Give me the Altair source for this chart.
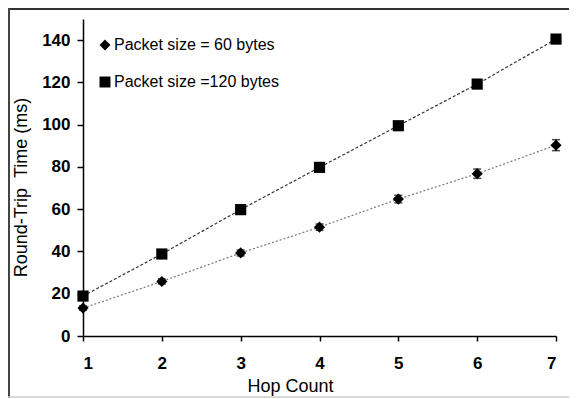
import altair as alt
import pandas as pd

hops = [1, 2, 3, 4, 5, 6, 7]
series_names = ["Packet size = 60 bytes", "Packet size =120 bytes"]
rtt_60 = [13.2, 25.8, 39.3, 51.5, 64.8, 76.8, 90.3]
err_60 = [1.0, 1.2, 1.4, 1.5, 1.8, 2.2, 2.6]
rtt_120 = [18.9, 38.8, 59.8, 79.8, 99.5, 119.2, 140.5]
err_120 = [0.8, 0.8, 0.8, 0.8, 0.8, 0.9, 1.2]
y_ticks = [0, 20, 40, 60, 80, 100, 120, 140]

rows = []
for h, v, e in zip(hops, rtt_60, err_60):
    rows.append({"hop": h, "rtt": v, "lo": v - e, "hi": v + e, "series": series_names[0], "line": "a"})
for h, v, e in zip(hops, rtt_120, err_120):
    rows.append({"hop": h, "rtt": v, "lo": v - e, "hi": v + e, "series": series_names[1], "line": "b"})
df = pd.DataFrame(rows)

FONT = "Liberation Sans"
W, H = 473, 317

x_enc = alt.X("hop:Q", scale=alt.Scale(domain=[1, 7], nice=False, zero=False),
              axis=alt.Axis(values=hops, title="Hop Count", grid=False, format="d",
                            labelFontSize=17, labelFontWeight="bold", labelPadding=14,
                            tickSize=5, titleFontSize=18, titleFontWeight="normal",
                            titleX=207, titleY=55, titleAlign="center",
                            titleBaseline="alphabetic"))
y_enc = alt.Y("rtt:Q", scale=alt.Scale(domain=[0, 150], nice=False),
              axis=alt.Axis(values=y_ticks, title="Round-Trip\u00a0\u00a0Time (ms)", grid=False,
                            labelFontSize=17, labelFontWeight="bold", labelPadding=7,
                            tickSize=6, titleFontSize=18, titleFontWeight="normal",
                            titleAngle=-90, titleX=-62, titleY=168, titleAlign="center",
                            titleBaseline="middle"))

base = alt.Chart(df)

lines = base.mark_line(strokeWidth=1.2).encode(
    x=x_enc, y=y_enc,
    color=alt.Color("line:N", scale=alt.Scale(domain=["a", "b"], range=["#777777", "#333333"]), legend=None),
    strokeDash=alt.StrokeDash("line:N", scale=alt.Scale(domain=["a", "b"], range=[[2, 2], [3, 2]]), legend=None),
)

err_rule = base.mark_rule(color="black", strokeWidth=1.5).encode(
    x="hop:Q", y="lo:Q", y2="hi:Q")
cap_lo = base.mark_tick(color="black", orient="horizontal", size=8, thickness=1.5).encode(
    x="hop:Q", y="lo:Q")
cap_hi = base.mark_tick(color="black", orient="horizontal", size=8, thickness=1.5).encode(
    x="hop:Q", y="hi:Q")

points = base.mark_point(filled=True, opacity=1, color="black", size=125).encode(
    x="hop:Q", y="rtt:Q",
    shape=alt.Shape("series:N", scale=alt.Scale(domain=series_names, range=["diamond", "square"]),
                    legend=alt.Legend(title=None, orient="none", legendX=14, legendY=18,
                                      labelFontSize=16, labelFont=FONT, symbolSize=120,
                                      symbolFillColor="black", symbolStrokeWidth=0,
                                      rowPadding=21, labelLimit=400, padding=0,
                                      labelOffset=1, labelColor="black")),
)

frame_data = alt.Data(values=[{}])
top_line = alt.Chart(frame_data).mark_rule(color="#333333", strokeWidth=2, clip=False).encode(
    x=alt.value(-75), x2=alt.value(W + 13), y=alt.value(-10))
left_line = alt.Chart(frame_data).mark_rule(color="#444444", strokeWidth=2, clip=False).encode(
    x=alt.value(-74), y=alt.value(-11), y2=alt.value(H + 62))
bottom_line = alt.Chart(frame_data).mark_rule(color="#cccccc", strokeWidth=1.5, clip=False).encode(
    x=alt.value(-75), x2=alt.value(W + 13), y=alt.value(378))

chart = alt.layer(lines, err_rule, cap_lo, cap_hi, points, top_line, left_line, bottom_line).properties(
    width=W, height=H,
    padding={"left": 75, "top": 11, "right": 13, "bottom": 62},
    autosize=alt.AutoSizeParams(type="none"),
).configure_view(stroke=None).configure_axis(
    labelFont=FONT, titleFont=FONT, domainColor="black", tickColor="black",
    labelColor="black", titleColor="black", domainWidth=1.5, tickWidth=1.5,
)

chart.save("out.html", embed_options={"renderer": "svg", "actions": False})
